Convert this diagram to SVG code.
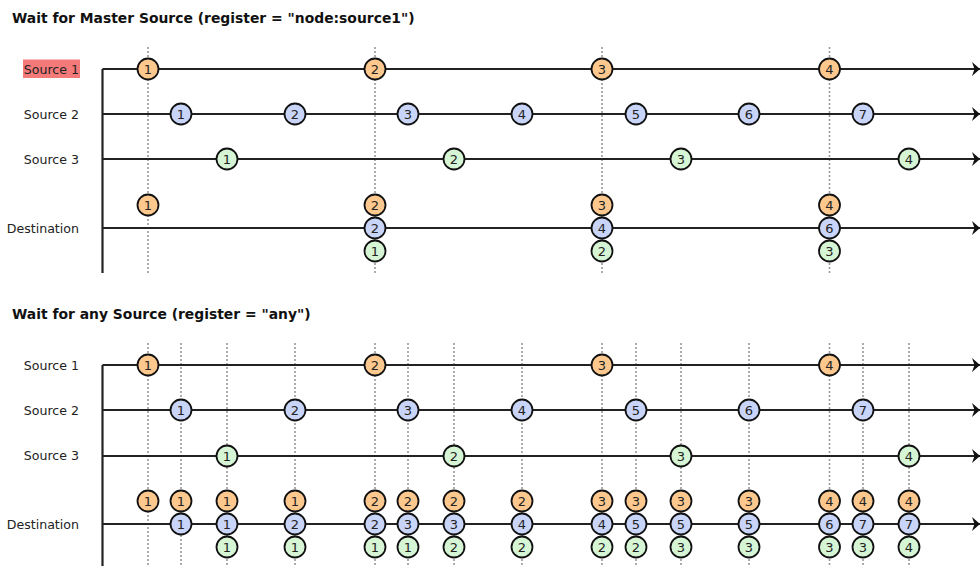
<svg xmlns="http://www.w3.org/2000/svg" width="980" height="566" viewBox="0 0 980 566">
  <style>
    .title { font-family: "DejaVu Sans", Verdana, sans-serif; font-weight: bold; font-size: 13.9px; fill: #111; }
    .lbl { font-family: "DejaVu Sans", Verdana, sans-serif; font-size: 12.6px; fill: #222; text-anchor: end; }
    .axis { stroke: #222; stroke-width: 2.2; fill: none; }
    .line { stroke: #222; stroke-width: 2.2; fill: none; marker-end: url(#arr); }
    .tick { stroke: #999; stroke-width: 1.6; stroke-dasharray: 2 2; fill: none; }
    .m circle { stroke: #111; stroke-width: 1.8; }
    .m text { font-family: "DejaVu Sans", Verdana, sans-serif; font-size: 13px; fill: #222; text-anchor: middle; }
    .o circle { fill: #fdc88e; }
    .b circle { fill: #c9d5f8; }
    .g circle { fill: #d5f5d5; }
  </style>
  <defs>
    <marker id="arr" markerWidth="10" markerHeight="14" refX="8" refY="7" orient="auto" markerUnits="userSpaceOnUse">
      <path d="M0,0 L8,7 L0,14 L2.5,7 Z" fill="#111"/>
    </marker>
  </defs>
  <rect width="980" height="566" fill="#fff"/>

  <!-- ===== Section 1: wait for master source ===== -->
  <text class="title" x="12" y="23">Wait for Master Source (register = "node:source1")</text>
  <rect x="23" y="59.5" width="57" height="18.5" fill="#f47a7a"/>
  <text class="lbl" x="79" y="73.5">Source 1</text>
  <text class="lbl" x="79" y="118.5">Source 2</text>
  <text class="lbl" x="79" y="163.5">Source 3</text>
  <text class="lbl" x="79" y="232.5">Destination</text>

  <g id="ticks-1">
    <line class="tick" x1="148" y1="47" x2="148" y2="273"/>
    <line class="tick" x1="375" y1="47" x2="375" y2="273"/>
    <line class="tick" x1="602" y1="47" x2="602" y2="273"/>
    <line class="tick" x1="829.5" y1="47" x2="829.5" y2="273"/>
  </g>
  <g id="connectors-1">
    <path class="axis" d="M102.5,69 V273"/>
    <path class="line" d="M102.5,69 H980"/>
    <path class="line" d="M102.5,114 H980"/>
    <path class="line" d="M102.5,159 H980"/>
    <path class="line" d="M102.5,228 H980"/>
  </g>

  <!-- source 1 -->
  <g id="s1-1" class="m o"><circle cx="148" cy="69" r="10.5"/><text x="148" y="73.5">1</text></g>
  <g id="s1-2" class="m o"><circle cx="375" cy="69" r="10.5"/><text x="375" y="73.5">2</text></g>
  <g id="s1-3" class="m o"><circle cx="602" cy="69" r="10.5"/><text x="602" y="73.5">3</text></g>
  <g id="s1-4" class="m o"><circle cx="829.5" cy="69" r="10.5"/><text x="829.5" y="73.5">4</text></g>
  <!-- source 2 -->
  <g id="s2-1" class="m b"><circle cx="181" cy="114" r="10.5"/><text x="181" y="118.5">1</text></g>
  <g id="s2-2" class="m b"><circle cx="295" cy="114" r="10.5"/><text x="295" y="118.5">2</text></g>
  <g id="s2-3" class="m b"><circle cx="408" cy="114" r="10.5"/><text x="408" y="118.5">3</text></g>
  <g id="s2-4" class="m b"><circle cx="522" cy="114" r="10.5"/><text x="522" y="118.5">4</text></g>
  <g id="s2-5" class="m b"><circle cx="636" cy="114" r="10.5"/><text x="636" y="118.5">5</text></g>
  <g id="s2-6" class="m b"><circle cx="749" cy="114" r="10.5"/><text x="749" y="118.5">6</text></g>
  <g id="s2-7" class="m b"><circle cx="863" cy="114" r="10.5"/><text x="863" y="118.5">7</text></g>
  <!-- source 3 -->
  <g id="s3-1" class="m g"><circle cx="227" cy="159" r="10.5"/><text x="227" y="163.5">1</text></g>
  <g id="s3-2" class="m g"><circle cx="454" cy="159" r="10.5"/><text x="454" y="163.5">2</text></g>
  <g id="s3-3" class="m g"><circle cx="681" cy="159" r="10.5"/><text x="681" y="163.5">3</text></g>
  <g id="s3-4" class="m g"><circle cx="909" cy="159" r="10.5"/><text x="909" y="163.5">4</text></g>
  <!-- destination -->
  <g id="d1-a" class="m o"><circle cx="148" cy="205" r="10.5"/><text x="148" y="209.5">1</text></g>

  <g id="d1-b" class="m o"><circle cx="375" cy="205" r="10.5"/><text x="375" y="209.5">2</text></g>
  <g id="d1-c" class="m b"><circle cx="375" cy="228" r="10.5"/><text x="375" y="232.5">2</text></g>
  <g id="d1-d" class="m g"><circle cx="375" cy="251" r="10.5"/><text x="375" y="255.5">1</text></g>

  <g id="d1-e" class="m o"><circle cx="602" cy="205" r="10.5"/><text x="602" y="209.5">3</text></g>
  <g id="d1-f" class="m b"><circle cx="602" cy="228" r="10.5"/><text x="602" y="232.5">4</text></g>
  <g id="d1-g" class="m g"><circle cx="602" cy="251" r="10.5"/><text x="602" y="255.5">2</text></g>

  <g id="d1-h" class="m o"><circle cx="829.5" cy="205" r="10.5"/><text x="829.5" y="209.5">4</text></g>
  <g id="d1-i" class="m b"><circle cx="829.5" cy="228" r="10.5"/><text x="829.5" y="232.5">6</text></g>
  <g id="d1-j" class="m g"><circle cx="829.5" cy="251" r="10.5"/><text x="829.5" y="255.5">3</text></g>

  <!-- ===== Section 2: wait for any source ===== -->
  <text class="title" x="12" y="319">Wait for any Source (register = "any")</text>
  <text class="lbl" x="79" y="369.5">Source 1</text>
  <text class="lbl" x="79" y="414.5">Source 2</text>
  <text class="lbl" x="79" y="460">Source 3</text>
  <text class="lbl" x="79" y="528.5">Destination</text>

  <g id="ticks-2">
    <line class="tick" x1="148" y1="343" x2="148" y2="566"/>
    <line class="tick" x1="181" y1="343" x2="181" y2="566"/>
    <line class="tick" x1="227" y1="343" x2="227" y2="566"/>
    <line class="tick" x1="295" y1="343" x2="295" y2="566"/>
    <line class="tick" x1="375" y1="343" x2="375" y2="566"/>
    <line class="tick" x1="408" y1="343" x2="408" y2="566"/>
    <line class="tick" x1="454" y1="343" x2="454" y2="566"/>
    <line class="tick" x1="522" y1="343" x2="522" y2="566"/>
    <line class="tick" x1="602" y1="343" x2="602" y2="566"/>
    <line class="tick" x1="636" y1="343" x2="636" y2="566"/>
    <line class="tick" x1="681" y1="343" x2="681" y2="566"/>
    <line class="tick" x1="749" y1="343" x2="749" y2="566"/>
    <line class="tick" x1="829.5" y1="343" x2="829.5" y2="566"/>
    <line class="tick" x1="863" y1="343" x2="863" y2="566"/>
    <line class="tick" x1="909" y1="343" x2="909" y2="566"/>
  </g>
  <g id="connectors-2">
    <path class="axis" d="M102.5,365 V566"/>
    <path class="line" d="M102.5,365 H980"/>
    <path class="line" d="M102.5,410 H980"/>
    <path class="line" d="M102.5,456 H980"/>
    <path class="line" d="M102.5,524 H980"/>
  </g>

  <!-- source 1 -->
  <g id="t1-1" class="m o"><circle cx="148" cy="365" r="10.5"/><text x="148" y="369.5">1</text></g>
  <g id="t1-2" class="m o"><circle cx="375" cy="365" r="10.5"/><text x="375" y="369.5">2</text></g>
  <g id="t1-3" class="m o"><circle cx="602" cy="365" r="10.5"/><text x="602" y="369.5">3</text></g>
  <g id="t1-4" class="m o"><circle cx="829.5" cy="365" r="10.5"/><text x="829.5" y="369.5">4</text></g>
  <!-- source 2 -->
  <g id="t2-1" class="m b"><circle cx="181" cy="410" r="10.5"/><text x="181" y="414.5">1</text></g>
  <g id="t2-2" class="m b"><circle cx="295" cy="410" r="10.5"/><text x="295" y="414.5">2</text></g>
  <g id="t2-3" class="m b"><circle cx="408" cy="410" r="10.5"/><text x="408" y="414.5">3</text></g>
  <g id="t2-4" class="m b"><circle cx="522" cy="410" r="10.5"/><text x="522" y="414.5">4</text></g>
  <g id="t2-5" class="m b"><circle cx="636" cy="410" r="10.5"/><text x="636" y="414.5">5</text></g>
  <g id="t2-6" class="m b"><circle cx="749" cy="410" r="10.5"/><text x="749" y="414.5">6</text></g>
  <g id="t2-7" class="m b"><circle cx="863" cy="410" r="10.5"/><text x="863" y="414.5">7</text></g>
  <!-- source 3 -->
  <g id="t3-1" class="m g"><circle cx="227" cy="456" r="10.5"/><text x="227" y="460.5">1</text></g>
  <g id="t3-2" class="m g"><circle cx="454" cy="456" r="10.5"/><text x="454" y="460.5">2</text></g>
  <g id="t3-3" class="m g"><circle cx="681" cy="456" r="10.5"/><text x="681" y="460.5">3</text></g>
  <g id="t3-4" class="m g"><circle cx="909" cy="456" r="10.5"/><text x="909" y="460.5">4</text></g>

  <!-- destination: one combined value per incoming event -->
  <g id="e01" class="m o"><circle cx="148" cy="501" r="10.5"/><text x="148" y="505.5">1</text></g>

  <g id="e02a" class="m o"><circle cx="181" cy="501" r="10.5"/><text x="181" y="505.5">1</text></g>
  <g id="e02b" class="m b"><circle cx="181" cy="524" r="10.5"/><text x="181" y="528.5">1</text></g>

  <g id="e03a" class="m o"><circle cx="227" cy="501" r="10.5"/><text x="227" y="505.5">1</text></g>
  <g id="e03b" class="m b"><circle cx="227" cy="524" r="10.5"/><text x="227" y="528.5">1</text></g>
  <g id="e03c" class="m g"><circle cx="227" cy="547" r="10.5"/><text x="227" y="551.5">1</text></g>

  <g id="e04a" class="m o"><circle cx="295" cy="501" r="10.5"/><text x="295" y="505.5">1</text></g>
  <g id="e04b" class="m b"><circle cx="295" cy="524" r="10.5"/><text x="295" y="528.5">2</text></g>
  <g id="e04c" class="m g"><circle cx="295" cy="547" r="10.5"/><text x="295" y="551.5">1</text></g>

  <g id="e05a" class="m o"><circle cx="375" cy="501" r="10.5"/><text x="375" y="505.5">2</text></g>
  <g id="e05b" class="m b"><circle cx="375" cy="524" r="10.5"/><text x="375" y="528.5">2</text></g>
  <g id="e05c" class="m g"><circle cx="375" cy="547" r="10.5"/><text x="375" y="551.5">1</text></g>

  <g id="e06a" class="m o"><circle cx="408" cy="501" r="10.5"/><text x="408" y="505.5">2</text></g>
  <g id="e06b" class="m b"><circle cx="408" cy="524" r="10.5"/><text x="408" y="528.5">3</text></g>
  <g id="e06c" class="m g"><circle cx="408" cy="547" r="10.5"/><text x="408" y="551.5">1</text></g>

  <g id="e07a" class="m o"><circle cx="454" cy="501" r="10.5"/><text x="454" y="505.5">2</text></g>
  <g id="e07b" class="m b"><circle cx="454" cy="524" r="10.5"/><text x="454" y="528.5">3</text></g>
  <g id="e07c" class="m g"><circle cx="454" cy="547" r="10.5"/><text x="454" y="551.5">2</text></g>

  <g id="e08a" class="m o"><circle cx="522" cy="501" r="10.5"/><text x="522" y="505.5">2</text></g>
  <g id="e08b" class="m b"><circle cx="522" cy="524" r="10.5"/><text x="522" y="528.5">4</text></g>
  <g id="e08c" class="m g"><circle cx="522" cy="547" r="10.5"/><text x="522" y="551.5">2</text></g>

  <g id="e09a" class="m o"><circle cx="602" cy="501" r="10.5"/><text x="602" y="505.5">3</text></g>
  <g id="e09b" class="m b"><circle cx="602" cy="524" r="10.5"/><text x="602" y="528.5">4</text></g>
  <g id="e09c" class="m g"><circle cx="602" cy="547" r="10.5"/><text x="602" y="551.5">2</text></g>

  <g id="e10a" class="m o"><circle cx="636" cy="501" r="10.5"/><text x="636" y="505.5">3</text></g>
  <g id="e10b" class="m b"><circle cx="636" cy="524" r="10.5"/><text x="636" y="528.5">5</text></g>
  <g id="e10c" class="m g"><circle cx="636" cy="547" r="10.5"/><text x="636" y="551.5">2</text></g>

  <g id="e11a" class="m o"><circle cx="681" cy="501" r="10.5"/><text x="681" y="505.5">3</text></g>
  <g id="e11b" class="m b"><circle cx="681" cy="524" r="10.5"/><text x="681" y="528.5">5</text></g>
  <g id="e11c" class="m g"><circle cx="681" cy="547" r="10.5"/><text x="681" y="551.5">3</text></g>

  <g id="e12a" class="m o"><circle cx="749" cy="501" r="10.5"/><text x="749" y="505.5">3</text></g>
  <g id="e12b" class="m b"><circle cx="749" cy="524" r="10.5"/><text x="749" y="528.5">5</text></g>
  <g id="e12c" class="m g"><circle cx="749" cy="547" r="10.5"/><text x="749" y="551.5">3</text></g>

  <g id="e13a" class="m o"><circle cx="829.5" cy="501" r="10.5"/><text x="829.5" y="505.5">4</text></g>
  <g id="e13b" class="m b"><circle cx="829.5" cy="524" r="10.5"/><text x="829.5" y="528.5">6</text></g>
  <g id="e13c" class="m g"><circle cx="829.5" cy="547" r="10.5"/><text x="829.5" y="551.5">3</text></g>

  <g id="e14a" class="m o"><circle cx="863" cy="501" r="10.5"/><text x="863" y="505.5">4</text></g>
  <g id="e14b" class="m b"><circle cx="863" cy="524" r="10.5"/><text x="863" y="528.5">7</text></g>
  <g id="e14c" class="m g"><circle cx="863" cy="547" r="10.5"/><text x="863" y="551.5">3</text></g>

  <g id="e15a" class="m o"><circle cx="909" cy="501" r="10.5"/><text x="909" y="505.5">4</text></g>
  <g id="e15b" class="m b"><circle cx="909" cy="524" r="10.5"/><text x="909" y="528.5">7</text></g>
  <g id="e15c" class="m g"><circle cx="909" cy="547" r="10.5"/><text x="909" y="551.5">4</text></g>
</svg>
